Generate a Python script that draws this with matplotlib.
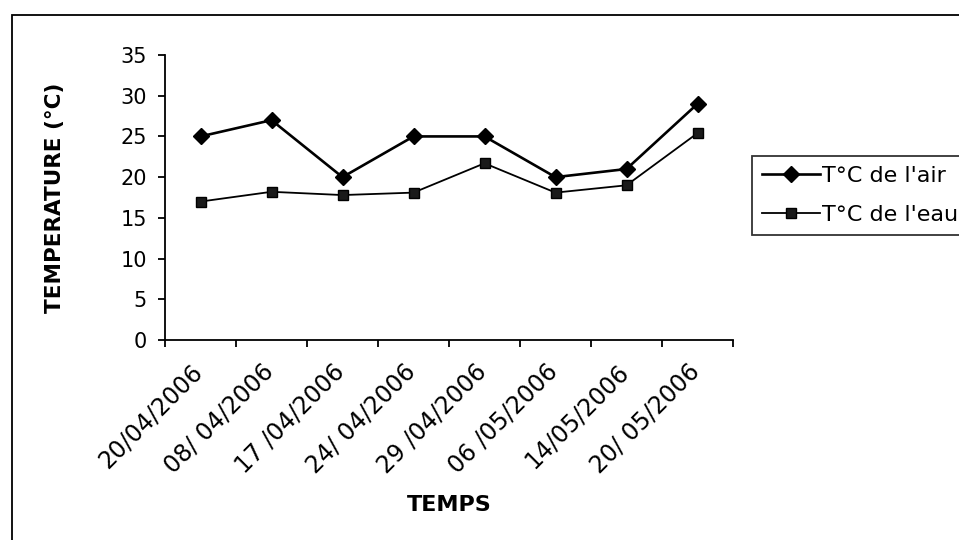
### Temperature of air and water over the sampling dates
import matplotlib
matplotlib.use('Agg')
import matplotlib.pyplot as plt
from matplotlib.patches import Rectangle
from matplotlib.transforms import ScaledTranslation

## Data
dates = ['20/04/2006', '08/ 04/2006', '17 /04/2006', '24/ 04/2006',
         '29 /04/2006', '06 /05/2006', '14/05/2006', '20/ 05/2006']
t_air = [25, 27, 20, 25, 25, 20, 21, 29]
t_eau = [17, 18.2, 17.8, 18.1, 21.7, 18.1, 19, 25.4]
y_ticks = [0, 5, 10, 15, 20, 25, 30, 35]

plt.rcParams['font.family'] = ['DejaVu Sans']

fig = plt.figure(figsize=(9.59, 5.40), dpi=100)
ax = fig.add_axes([165 / 959, 1 - 340 / 540, (733 - 165) / 959, (340 - 55) / 540])

x = list(range(len(dates)))
ax.plot(x, t_air, color='black', linewidth=1.9, marker='D', markersize=8,
        label="T°C de l'air")
ax.plot(x, t_eau, color='black', linewidth=1.3, marker='s', markersize=7.5,
        markerfacecolor='#1a1a1a', markeredgecolor='black', label="T°C de l'eau")

# Axes look (excel style: only left and bottom lines, ticks outside)
ax.set_xlim(-0.5, len(dates) - 0.5)
ax.set_ylim(0, 35)
ax.set_yticks(y_ticks)
ax.spines['top'].set_visible(False)
ax.spines['right'].set_visible(False)
ax.spines['left'].set_linewidth(1.3)
ax.spines['bottom'].set_linewidth(1.3)
ax.tick_params(axis='y', direction='out', length=5, width=1.3, labelsize=15, pad=8)

# ticks between categories, labels at the category centres
ax.set_xticks([i - 0.5 for i in range(len(dates) + 1)])
ax.set_xticklabels([])
ax.set_xticks(x, minor=True)
ax.set_xticklabels(dates, minor=True, rotation=45, ha='right', va='top',
                   rotation_mode='anchor', fontsize=17)
ax.tick_params(axis='x', which='major', direction='out', length=5, width=1.3)
ax.tick_params(axis='x', which='minor', length=0, pad=14)
# move the rotated labels a little to the left, like the original
shift = ScaledTranslation(-10 / 100, 0, fig.dpi_scale_trans)
for lab in ax.get_xticklabels(minor=True):
    lab.set_transform(lab.get_transform() + shift)

ax.set_xlabel('TEMPS', fontsize=16, fontweight='bold', va='top')
ax.xaxis.set_label_coords(0.5, (340 - 495) / 285)
ax.set_ylabel('TEMPERATURE (°C)', fontsize=15.5, fontweight='bold', labelpad=40)

leg = ax.legend(loc='upper left', bbox_to_anchor=(752 / 959, 1 - 156 / 540),
                bbox_transform=fig.transFigure, borderaxespad=0, fontsize=16,
                fancybox=False, frameon=True, handlelength=2.6, handletextpad=0.1,
                labelspacing=0.85, borderpad=0.45)
leg.get_frame().set_edgecolor('black')
leg.get_frame().set_linewidth(1.3)

# Outer border of the chart area (right and bottom sides are cut off)
fig.add_artist(Rectangle((12 / 959, -0.1), 1.2, 1.1 - 15 / 540, transform=fig.transFigure,
                         fill=False, edgecolor='black', linewidth=1.3))

fig.savefig('out.png', dpi=100)
